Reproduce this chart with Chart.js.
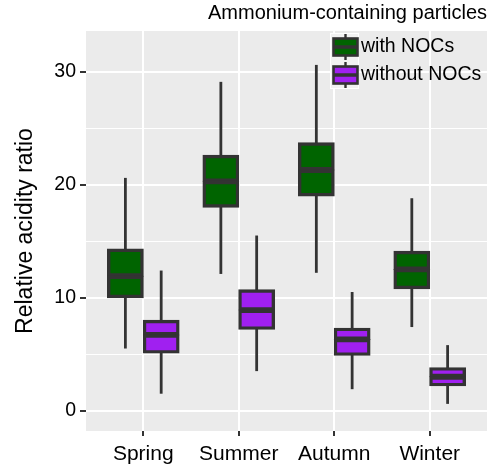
<!DOCTYPE html>
<html>
<head>
<meta charset="utf-8">
<title>Relative acidity ratio</title>
<script src="https://cdn.jsdelivr.net/npm/chart.js"></script>
<style>
    body { margin: 0; background: #fff; }
    canvas { display: block; }
</style>
</head>
<body>
<canvas id="chartAcidity" width="494" height="471"></canvas>
<script>
const seasons = ['Spring', 'Summer', 'Autumn', 'Winter'];
const yTicks = [0, 5, 10, 15, 20, 25, 30];
const seriesNames = ['with NOCs', 'without NOCs'];

// with NOCs: whisker ends, quartiles, median
const withMin = [5.5, 12.1, 12.2, 7.4];
const withQ1 = [10.0, 18.0, 19.0, 10.8];
const withMedian = [11.9, 20.3, 21.3, 12.5];
const withQ3 = [14.3, 22.6, 23.7, 14.1];
const withMax = [20.6, 29.1, 30.6, 18.8];

// without NOCs
const withoutMin = [1.5, 3.5, 1.9, 0.6];
const withoutQ1 = [5.1, 7.2, 4.9, 2.2];
const withoutMedian = [6.7, 8.9, 6.3, 3.0];
const withoutQ3 = [8.0, 10.7, 7.3, 3.8];
const withoutMax = [12.4, 15.5, 10.5, 5.8];

const colorWith = '#006400';
const colorWithout = '#A020F0';
const colorLine = '#333333';
const fontFamily = '"Liberation Sans", Arial, sans-serif';

// boxes are dodged a bit left/right of each season
const dodge = 0.1875;

function spans(offset, lo, hi) {
    return seasons.map((s, i) => ({ x: i + 1 + offset, y: [lo[i], hi[i]] }));
}

// each box is two halves, so the shared edge makes the thick median line.
// inflateAmount overlaps fill/border/halves so no light seams show
function boxHalf(offset, lo, hi, color) {
    return {
        data: spans(offset, lo, hi),
        backgroundColor: color,
        borderColor: colorLine,
        borderWidth: 3.4,
        borderSkipped: false,
        inflateAmount: 0.5,
        grouped: false,
        categoryPercentage: 1,
        barPercentage: 1,
        order: 0
    };
}

function whisker(offset, lo, hi) {
    return {
        data: spans(offset, lo, hi),
        backgroundColor: colorLine,
        borderWidth: 0,
        inflateAmount: 0,
        grouped: false,
        barThickness: 2.8,
        order: 1
    };
}

// grey panel behind the grid
const panelPlugin = {
    id: 'panel',
    beforeDraw(chart) {
        const { ctx, chartArea: a } = chart;
        ctx.save();
        ctx.fillStyle = '#EBEBEB';
        ctx.fillRect(a.left, a.top, a.width, a.height);
        ctx.restore();
    }
};

// legend with little boxplot keys, inside the panel top right
const legendPlugin = {
    id: 'boxLegend',
    afterDraw(chart) {
        const { ctx, chartArea: a } = chart;
        const x0 = a.right - 157;
        const y0 = a.top + 2;
        const colors = [colorWith, colorWithout];
        ctx.save();
        ctx.fillStyle = '#F2F2F2';
        ctx.fillRect(x0, y0, 29, 56);
        ctx.strokeStyle = '#FFFFFF';
        ctx.lineWidth = 1;
        ctx.strokeRect(x0 + 0.5, y0 + 0.5, 28, 55);
        seriesNames.forEach((name, i) => {
            const cx = x0 + 15.5;
            const cy = y0 + 14 + i * 28;
            ctx.strokeStyle = colorLine;
            ctx.lineWidth = 2.4;
            ctx.beginPath();
            ctx.moveTo(cx, cy - 13);
            ctx.lineTo(cx, cy + 13);
            ctx.stroke();
            ctx.fillStyle = colors[i];
            ctx.fillRect(cx - 12, cy - 8.5, 24, 17);
            ctx.lineWidth = 2.6;
            ctx.strokeRect(cx - 12, cy - 8.5, 24, 17);
            ctx.lineWidth = 3.5;
            ctx.beginPath();
            ctx.moveTo(cx - 12, cy);
            ctx.lineTo(cx + 12, cy);
            ctx.stroke();
            ctx.fillStyle = '#000000';
            ctx.font = '19.5px ' + fontFamily;
            ctx.textBaseline = 'middle';
            ctx.textAlign = 'left';
            ctx.fillText(name, x0 + 31, cy);
        });
        ctx.restore();
    }
};

const ctx = document.getElementById('chartAcidity').getContext('2d');
new Chart(ctx, {
    type: 'bar',
    data: {
        datasets: [
            boxHalf(-dodge, withQ1, withMedian, colorWith),
            boxHalf(-dodge, withMedian, withQ3, colorWith),
            boxHalf(dodge, withoutQ1, withoutMedian, colorWithout),
            boxHalf(dodge, withoutMedian, withoutQ3, colorWithout),
            whisker(-dodge, withMin, withMax),
            whisker(dodge, withoutMin, withoutMax)
        ]
    },
    options: {
        responsive: false,
        animation: false,
        layout: { padding: { left: 0, right: 7, top: 0, bottom: 0 } },
        plugins: {
            legend: { display: false },
            tooltip: { enabled: false },
            title: {
                display: true,
                text: 'Ammonium-containing particles',
                align: 'end',
                color: '#000000',
                font: { family: fontFamily, size: 20, weight: 'normal' },
                padding: { top: 1.7, bottom: 5.3 }
            }
        },
        scales: {
            x: {
                type: 'linear',
                offset: false,
                min: 0.4,
                max: 4.6,
                afterBuildTicks: scale => {
                    scale.ticks = seasons.map((s, i) => ({ value: i + 1 }));
                },
                afterFit: scale => { scale.height = 40; },
                grid: {
                    offset: false,
                    color: '#FFFFFF',
                    lineWidth: 2,
                    tickColor: colorLine,
                    tickWidth: 2,
                    tickLength: 5
                },
                border: { display: false },
                ticks: {
                    color: '#000000',
                    padding: 5.4,
                    font: { family: fontFamily, size: 21 },
                    callback: v => seasons[v - 1] || ''
                }
            },
            y: {
                min: -1.8,
                max: 33.6,
                afterBuildTicks: scale => {
                    scale.ticks = yTicks.map(v => ({ value: v }));
                },
                afterFit: scale => { scale.width = 86; },
                grid: {
                    color: '#FFFFFF',
                    lineWidth: c => (c.tick && c.tick.value % 10 === 0 ? 2 : 1),
                    tickColor: c => (c.tick && c.tick.value % 10 === 0 ? colorLine : 'rgba(0,0,0,0)'),
                    tickWidth: 2,
                    tickLength: 6
                },
                border: { display: false },
                ticks: {
                    color: '#000000',
                    padding: 4,
                    font: { family: fontFamily, size: 19.5 },
                    callback: v => (v % 10 === 0 ? String(v) : '')
                },
                title: {
                    display: true,
                    text: 'Relative acidity ratio',
                    color: '#000000',
                    font: { family: fontFamily, size: 23 },
                    padding: { top: 12.2, bottom: 0 }
                }
            }
        }
    },
    plugins: [panelPlugin, legendPlugin]
});
</script>
</body>
</html>
